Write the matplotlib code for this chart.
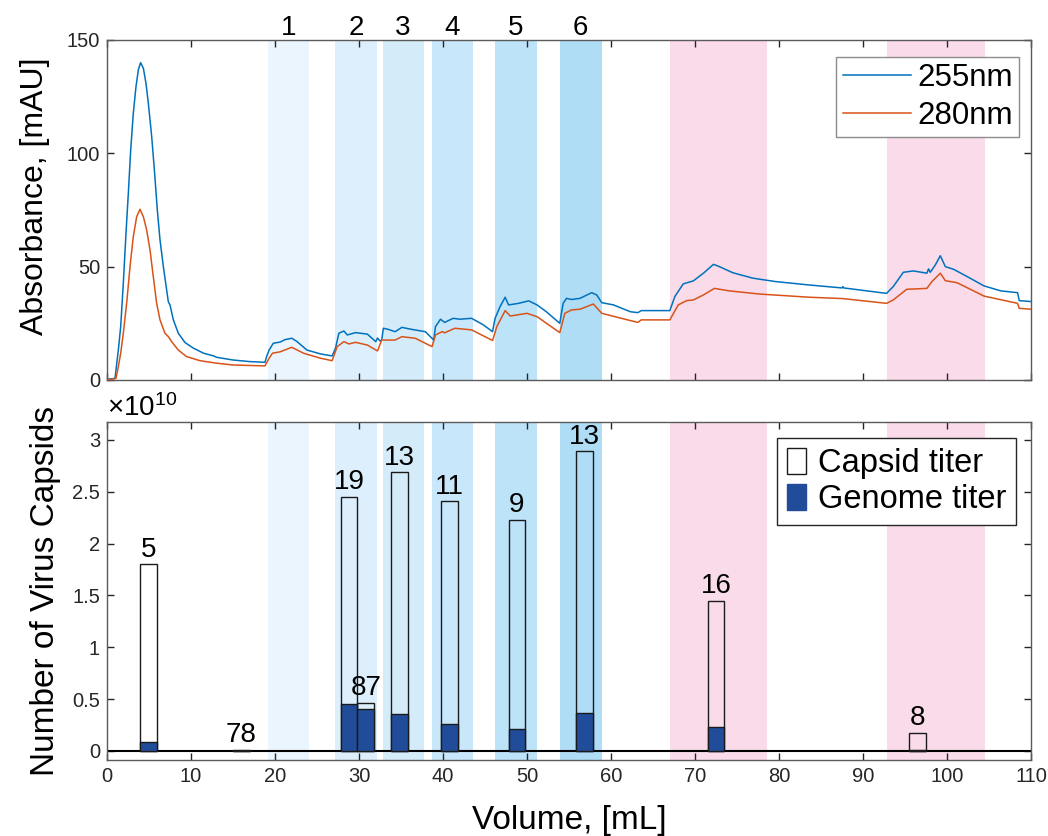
import matplotlib
matplotlib.use('Agg')
import matplotlib.pyplot as plt
from matplotlib.ticker import FuncFormatter
from matplotlib.patches import Patch

plt.rcParams['font.family'] = ['Liberation Sans', 'DejaVu Sans']
plt.rcParams['mathtext.fontset'] = 'custom'
plt.rcParams['mathtext.rm'] = 'Liberation Sans'

# absorbance traces
vol_255 = [0, 0.95, 1.35, 1.63, 1.94, 2.26, 2.54, 2.82, 3.13, 3.45, 3.73, 4.0, 4.33, 4.64, 4.92,
           5.32, 5.64, 5.99, 6.31, 6.71, 7.1, 7.3, 7.5, 7.9, 8.49, 9.29, 10.3, 11.5, 12.7, 13.05,
           15, 17, 18.8, 19.0, 19.3, 19.8, 20.6, 21.2, 22.0, 22.6, 23.8, 25.4, 26.8, 27.2, 27.6,
           28.2, 28.6, 29.6, 31.0, 32.0, 32.2, 32.5, 32.7, 32.9, 33.5, 34.3, 35.1, 36.3, 37.9,
           38.9, 39.1, 39.7, 40.2, 41.2, 42.0, 43.4, 44.8, 45.9, 46.2, 46.8, 47.4, 47.8, 49.0,
           50.2, 51.2, 52.3, 53.9, 54.3, 54.7, 55.3, 56.3, 57.7, 58.3, 58.9, 60.3, 62.3, 63.2,
           63.6, 67.0, 67.6, 68.6, 69.8, 71.0, 72.2, 72.9, 74.5, 76.9, 79.6, 83.6, 87.5, 87.6,
           87.7, 92.8, 93.6, 94.8, 96.0, 97.6, 97.8, 98.0, 98.6, 99.2, 99.8, 100.8, 102.4, 104.4,
           106.4, 108.4, 108.6, 110]
abs_255 = [0.3, 0.7, 13.2, 23.5, 42.6, 64.7, 82.4, 101.5, 117.6, 129.4, 136.8, 140.0, 137.5, 130.9,
           122.1, 107.4, 92.6, 75, 61.8, 50, 39.7, 34.5, 33.1, 26.5, 20.6, 16.5, 14, 11.8, 10.6, 10,
           8.8, 8.1, 7.8, 10.3, 13.2, 16.2, 16.7, 17.8, 18.4, 17, 13.2, 11.5, 10.6, 14, 20.6,
           21.6, 19.85, 20.9, 20.2, 16.9, 18.5, 17.2, 17.6, 22.8, 22.3, 21.3, 23.2, 22.3, 21.3,
           17.6, 23.5, 26.8, 25.4, 27.2, 26.8, 27.2, 24.3, 21.3, 27.2, 32.4, 36.5, 33.1, 33.8,
           34.9, 33.1, 30.1, 25.0, 33.8, 36.0, 35.5, 36.0, 38.5, 37.5, 34.1, 33.1, 30.1, 29.7,
           30.6, 30.6, 36.8, 42.4, 43.7, 47.1, 51.0, 50.0, 47.3, 44.9, 43.4, 41.9, 40.6, 41.2,
           40.6, 38.2, 41.2, 47.5, 48.1, 47.1, 49, 47.5, 50.7, 54.8, 50.0, 48.8, 45.6, 41.5,
           39.3, 38.5, 35.0, 34.6]

vol_280 = [0, 1.07, 1.35, 1.63, 1.94, 2.34, 2.74, 3.13, 3.53, 3.93, 4.33, 4.72, 5.12, 5.51, 5.91,
           6.31, 6.9, 7.3, 7.7, 8.49, 9.48, 11.07, 13.05, 15, 18.8, 19.3, 19.7, 20.6, 22.0, 23.4,
           25.4, 26.8, 27.4, 28.2, 28.8, 29.6, 31.0, 32.2, 32.7, 34.3, 35.1, 36.7, 38.7, 39.1,
           39.9, 40.2, 41.4, 43.4, 45.9, 46.4, 47.4, 48.0, 50.0, 51.2, 53.9, 54.5, 55.3, 56.3,
           57.9, 58.9, 62.3, 63.2, 63.6, 67.0, 68.0, 69.0, 69.8, 71.0, 72.3, 74.1, 77.7, 83.6,
           87.6, 92.8, 93.6, 95.2, 97.6, 98.2, 99.2, 99.8, 101.2, 104.4, 108.4, 108.6, 110]
abs_280 = [0, 0.7, 5.9, 11.8, 20.6, 33.8, 50, 63.2, 72, 75.3, 72, 66.2, 57.4, 45.6, 33.8,
           26.5, 20.6, 19.1, 16.9, 13.2, 10.3, 8.5, 7.4, 6.6, 6.2, 9.6, 11.8, 12.4, 14.4, 11.8,
           9.6, 8.5, 14.7, 16.9, 15.9, 16.6, 15.4, 12.8, 17.6, 17.6, 19.1, 18.4, 14.7, 19.85,
           21.3, 20.8, 22.8, 22.1, 17.4, 23.5, 30.6, 28.2, 29.4, 27.9, 20.9, 29.4, 30.9, 31.2,
           33.5, 29.4, 26.2, 25.4, 26.5, 26.5, 33.1, 35.0, 35.3, 37.5, 40.4, 39.3, 37.9, 36.5,
           35.9, 33.8, 35.3, 40.0, 40.4, 43.4, 47.1, 43.8, 42.9, 37.0, 33.8, 31.6, 31.2]

# collected fractions
frac_start = [19.2, 27.2, 32.8, 38.65, 46.2, 53.9]
frac_end = [24.1, 32.2, 37.7, 43.6, 51.15, 58.9]
frac_names = ['1', '2', '3', '4', '5', '6']
frac_colors = ['#eaf5fe', '#ddeffc', '#d4ebfa', '#c9e7fa', '#bde3f8', '#b0ddf6']
strip_start = [67.0, 92.9]
strip_end = [78.6, 104.5]

# titers per fraction
bar_x = [4.95, 16.0, 28.8, 30.8, 34.8, 40.8, 48.8, 56.8, 72.5, 96.5]
capsid_titer = [1.80e10, 0.012e10, 2.45e10, 0.466e10, 2.69e10, 2.41e10, 2.23e10, 2.89e10, 1.45e10, 0.177e10]
genome_titer = [0.087e10, 0.002e10, 0.453e10, 0.405e10, 0.357e10, 0.257e10, 0.209e10, 0.363e10, 0.231e10, 0.006e10]
bar_labels = ['5', '78', '19', '87', '13', '11', '9', '13', '16', '8']

fig = plt.figure(figsize=(10.48, 8.36), dpi=100)
ax1 = fig.add_axes([0.1021, 0.5455, 0.8817, 0.4067])
ax2 = fig.add_axes([0.1021, 0.0909, 0.8817, 0.4047])

edge = '#5a5a5a'
for ax in (ax1, ax2):
    for s, e, c in zip(frac_start, frac_end, frac_colors):
        ax.axvspan(s, e, color=c, lw=0, zorder=0)
    for s, e in zip(strip_start, strip_end):
        ax.axvspan(s, e, color='#f9dbea', lw=0, zorder=0)
    ax.set_xlim(0, 110)
    ax.set_xticks(range(0, 111, 10))
    ax.tick_params(direction='in', length=5, width=1, top=True, right=True,
                   labelsize=14.5, colors='#262626', pad=5)
    for sp in ax.spines.values():
        sp.set_color(edge)
        sp.set_linewidth(1)

ax1.plot(vol_255, abs_255, color='#0072BD', lw=1.1, label='255nm', zorder=3)
ax1.plot(vol_280, abs_280, color='#D95319', lw=1.1, label='280nm', zorder=3)
ax1.set_ylim(0, 150)
ax1.set_yticks([0, 50, 100, 150])
ax1.set_xticklabels([])
ax1.set_ylabel('Absorbance, [mAU]', fontsize=23)
ax1.yaxis.set_label_coords(-0.062, 0.54)
for s, e, n in zip(frac_start, frac_end, frac_names):
    ax1.text((s + e) / 2, 1.035, n, transform=ax1.get_xaxis_transform(),
             ha='center', va='center', fontsize=20)
leg1 = ax1.legend(loc='upper right', bbox_to_anchor=(0.9873, 0.95), fontsize=22.5,
                  handlelength=2.2, handletextpad=0.2, labelspacing=0.25, borderpad=0.2,
                  borderaxespad=0, fancybox=False, framealpha=1)
leg1.get_frame().set_edgecolor('#8c8c8c')
leg1.get_frame().set_linewidth(1)

ax2.axhline(0, color='black', lw=1.5, zorder=2)
ax2.bar(bar_x, capsid_titer, width=2, facecolor='none', edgecolor='#1a1a1a', lw=1, zorder=3)
ax2.bar(bar_x, genome_titer, width=2, color='#214c99', edgecolor='#1a1a1a', lw=1, zorder=4)
for x, h, t in zip(bar_x, capsid_titer, bar_labels):
    ax2.annotate(t, (x, h), xytext=(0, 1), textcoords='offset points',
                 ha='center', va='bottom', fontsize=20)
ax2.set_ylim(-0.087e10, 3.175e10)
ax2.set_yticks([v * 1e10 for v in [0, 0.5, 1, 1.5, 2, 2.5, 3]])
ax2.yaxis.set_major_formatter(FuncFormatter(lambda v, p: f'{v / 1e10:g}'))
ax2.annotate(r'$\times\mathregular{10^{10}}$', (0, 1), xycoords='axes fraction',
             xytext=(0, 4), textcoords='offset points', ha='left', va='baseline', fontsize=20)
ax2.set_ylabel('Number of Virus Capsids', fontsize=24, labelpad=8)
ax2.set_xlabel('Volume, [mL]', fontsize=24, labelpad=14)
handles = [Patch(facecolor='white', edgecolor='#1a1a1a', lw=1),
           Patch(facecolor='#214c99', edgecolor='#214c99', lw=1)]
leg2 = ax2.legend(handles, ['Capsid titer', 'Genome titer'], loc='upper right',
                  bbox_to_anchor=(0.9838, 0.952), fontsize=23.5, handlelength=0.6,
                  handleheight=0.85, handletextpad=0.35, labelspacing=0.15, borderpad=0.3,
                  borderaxespad=0, fancybox=False, framealpha=1)
leg2.get_frame().set_edgecolor('#262626')
leg2.get_frame().set_linewidth(1)

fig.savefig('out.png', dpi=100)
